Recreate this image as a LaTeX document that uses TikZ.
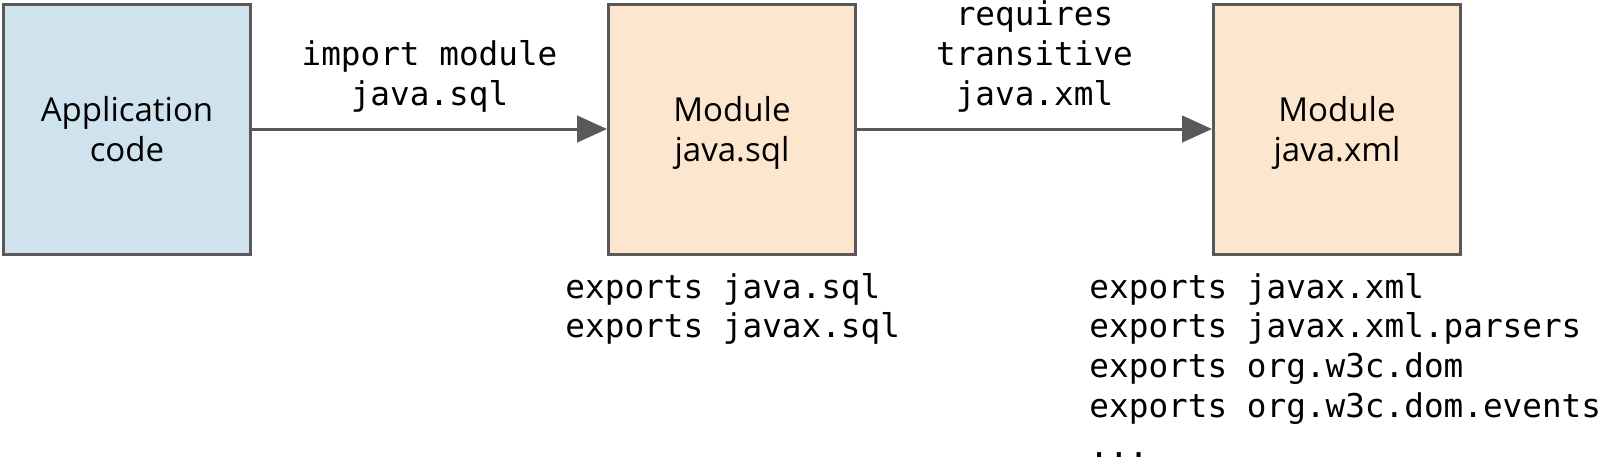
\documentclass[tikz,border=0pt]{standalone}
\usepackage{fontspec}
\setsansfont{Open Sans}
\setmonofont{DejaVu Sans Mono}
\usetikzlibrary{arrows.meta,positioning}
\definecolor{appblue}{HTML}{CFE3EE}
\definecolor{modorange}{HTML}{FCE6CE}
\definecolor{linegrey}{HTML}{595959}
\tikzstyle{box} = [draw=linegrey, line width=0.85pt, rectangle, minimum width=2.47cm, minimum height=2.5cm, align=center, text depth=0pt, font=\sffamily\fontsize{9.4}{11.6}\selectfont]
\tikzstyle{appcode} = [box, fill=appblue]
\tikzstyle{module} = [box, fill=modorange]
\tikzstyle{dep} = [text=black, align=center, font=\ttfamily\fontsize{9.3}{11.4}\selectfont, inner sep=0pt]
\tikzstyle{exports} = [text=black, align=left, font=\ttfamily\fontsize{9.3}{11.35}\selectfont, inner sep=0pt]

\begin{document}
\begin{tikzpicture}[>={Triangle[length=8.5pt,width=7.5pt]}, line width=0.85pt]
    % fix the page to the size of the original picture
    \useasboundingbox (0,0) rectangle (16,-4.58);
    \node [appcode] (app) at (1.27,-1.29) {Application\\code};
    \node [module, right=3.55cm of app] (sql) {Module\\java.sql};
    \node [module, right=3.55cm of sql] (xml) {Module\\java.xml};

    % dependencies between the modules
    \draw [->, linegrey] (app) -- node[dep, above=0.15cm] {import module\\java.sql} (sql);
    \draw [->, linegrey] (sql) -- node[dep, above=0.15cm] {requires\\transitive\\java.xml} (xml);

    % what each module exports
    \node [exports, below right=0.16cm and -0.43cm of sql.south west] (sqlexp) {exports java.sql\\exports javax.sql};
    \node [exports, below right=0.16cm and -1.24cm of xml.south west] (xmlexp) {exports javax.xml\\exports javax.xml.parsers\\exports org.w3c.dom\\exports org.w3c.dom.events\\...};
\end{tikzpicture}
\end{document}
